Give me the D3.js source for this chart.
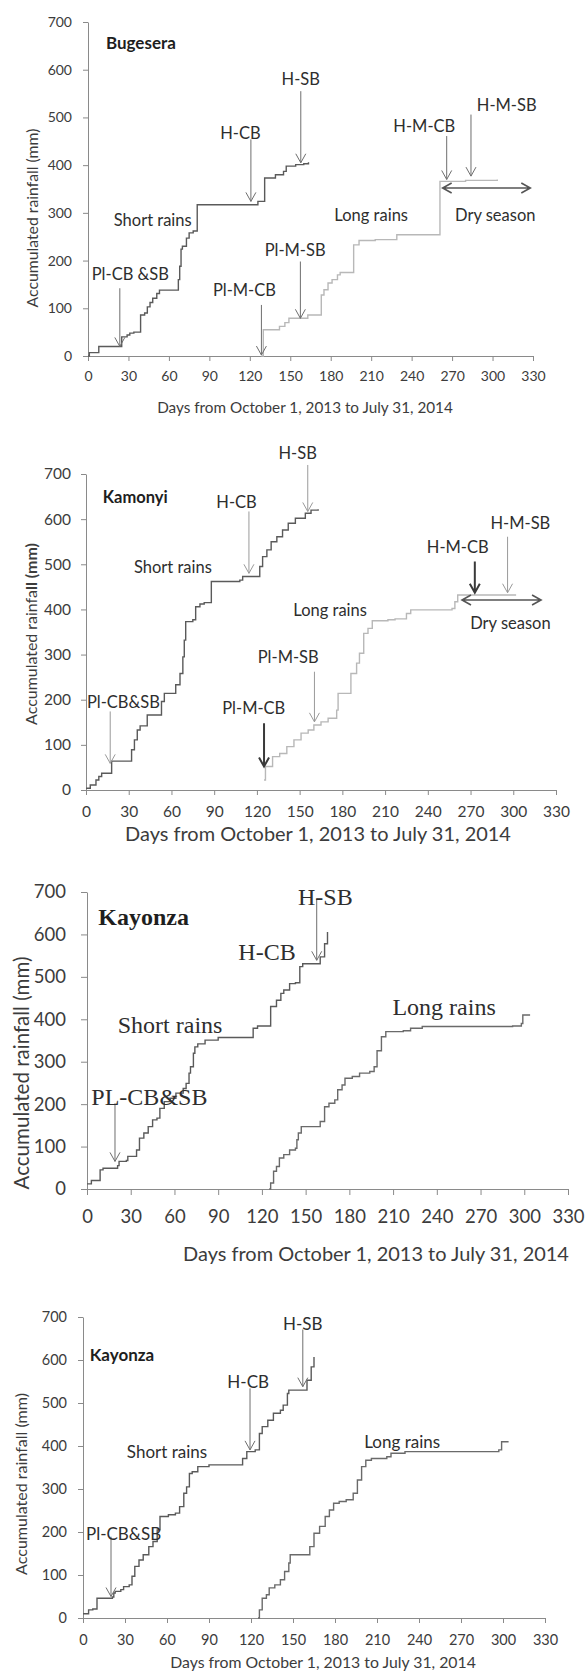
<!DOCTYPE html>
<html>
<head>
<meta charset="utf-8">
<script src="https://cdn.jsdelivr.net/npm/d3@7"></script>
<style>
  body { margin: 0; background: #fff; }
</style>
</head>
<body>
<div id="chart"></div>
<script>
// ticks + titles
const dayTicks = [0, 30, 60, 90, 120, 150, 180, 210, 240, 270, 300, 330];
const mmTicks = [0, 100, 200, 300, 400, 500, 600, 700];
const xTitle = 'Days from October 1, 2013 to July 31, 2014';
const yTitle = 'Accumulated rainfall (mm)';

// cumulative rainfall, [day, mm] (level starts on that day)
const bugeseraShort = [[0,0],[1,7],[8,20],[25,40],[29,44],[31,48],[34,50],[39,86],[42,90],[44,103],[46,112],[48,121],[51,131],[53,138],[67,160],[68,188],[69,224],[70,230],[73,247],[75,258],[78,262],[81,317],[126,324],[131,373],[139,380],[145,387],[147,398],[154,401],[160,403],[163.5,406]];
const bugeseraLong = [[128.5,0],[130,55],[142,62],[146,70],[149,79],[163,86],[173,128],[175,139],[178,153],[181,160],[185,170],[187,175],[197,233],[201,242],[213,244],[229,254],[261,366],[280,368],[303.5,370]];

const kamonyiShort = [[0,4],[3,11],[7,22],[9,30],[11,37],[18,64],[32,89],[34,111],[36,133],[38,142],[43,166],[53,196],[55,214],[63,233],[66,258],[68,295],[69,332],[70,373],[75,377],[77,406],[80,412],[83,415],[88,462],[108,465],[110,473],[122,495],[124,517],[127,532],[130,550],[134,561],[138,576],[142,591],[147,602],[154,613],[158,620],[163,622]];
const kamonyiLong = [[125,22],[126,52],[131,74],[136,81],[141,96],[146,111],[151,126],[156,133],[160,144],[165,151],[170,159],[176,177],[177,214],[186,258],[190,281],[192,303],[195,347],[198,358],[201,375],[212,377],[217,379],[225,391],[228,399],[257,402],[259,417],[261,432],[302,432]];

const kayonzaShort = [[0,12],[3,20],[9,45],[11,49],[21,55],[22,65],[27,67],[28,77],[34,92],[36,120],[39,132],[42,147],[45,163],[48,167],[50,190],[53,206],[57,214],[61,226],[66,237],[68,249],[70,273],[71,288],[73,320],[74,335],[76,342],[81,351],[90,357],[114,379],[117,384],[126,430],[130,445],[133,461],[135,469],[139,484],[143,486],[146,524],[148,531],[160,547],[163,578],[165,606]];
const kayonzaLong = [[125,0],[126,14],[128,42],[130,53],[132,73],[135,81],[139,92],[143,96],[144,116],[145,132],[147,147],[160,159],[163,194],[166,202],[170,210],[172,234],[175,245],[177,261],[182,265],[187,273],[194,277],[197,288],[199,326],[202,359],[205,371],[217,373],[222,379],[230,383],[292,384],[298,390],[299,410],[304,410]];

const kayonza2Short = [[0,10],[4,19],[7,21],[10,46],[21,49],[22,58],[23,62],[27,66],[29,73],[33,77],[35,97],[37,120],[40,135],[43,147],[47,166],[50,178],[53,205],[55,236],[61,240],[66,244],[69,259],[72,290],[74,305],[76,336],[78,340],[82,352],[90,356],[114,371],[117,387],[123,391],[126,429],[128,445],[132,460],[136,476],[141,483],[143,495],[146,522],[147,530],[160,553],[163,584],[165,607]];
const kayonza2Long = [[125,0],[126,19],[128,46],[131,54],[133,70],[137,77],[141,89],[144,108],[147,128],[148,147],[162,166],[165,197],[169,213],[173,236],[176,251],[179,267],[183,271],[188,275],[193,290],[196,321],[199,352],[202,367],[206,371],[217,375],[220,383],[230,387],[297,391],[299,410],[304,410]];

// annotations: [text, day, mm] ; arrows: [day, fromMm, toMm] ; dry: [fromDay, toDay, mm]
const bugeseraNotes = [['Pl-CB &SB',31.4,172],['Short rains',48,286],['H-CB',113,468],['H-SB',157.8,580],['Pl-M-CB',116,139],['Pl-M-SB',153.6,223],['Long rains',210,296],['H-M-CB',249.4,482],['H-M-SB',310.5,527],['Dry season',302,296]];
const bugeseraArrows = [[23.6,142,20],[120.8,454,324],[157.8,555,405],[128.6,107,2],[157.5,198,79],[266,461,370],[284,506,377]];
const bugeseraDry = [263, 328, 352];

const kamonyiNotes = [['H-SB',148.6,746],['H-CB',105.7,639],['Short rains',61,495],['Pl-CB&SB',26.3,196],['Pl-M-CB',117.8,181],['Pl-M-SB',142,295],['Long rains',171.4,399],['H-M-CB',261,539],['H-M-SB',305,591],['Dry season',298,369]];
const kamonyiArrows = [[155.7,720,617],[114.4,617,480],[17,174,59],[160.4,262,151],[296,561,437]];
const kamonyiBoldArrows = [[125,148,52],[273,506,437]];
const kamonyiDry = [264, 319.5, 421];

const kayonzaNotes = [['H-SB',163.5,688],['H-CB',123.5,559],['Short rains',57,386],['PL-CB&SB',42.8,218],['Long rains',245,430]];
const kayonzaArrows = [[157.6,684,539],[19.2,202,65]];

const kayonza2Notes = [['H-SB',157,686],['H-CB',118,549],['Short rains',60,387],['Pl-CB&SB',29,197],['Long rains',228,410]];
const kayonza2Arrows = [[157,671,538],[119.3,534,391],[20,189,50]];

const sans = "Lato, 'Open Sans', sans-serif";
const serif = "'Liberation Serif', 'DejaVu Serif', serif";

const panels = [
  { name: 'Bugesera', nameAt: [13.3, 657], short: bugeseraShort, long: bugeseraLong, longColor: '#b8b8b8',
    notes: bugeseraNotes, arrows: bugeseraArrows, bold: [], dry: bugeseraDry,
    x0: 88, x1: 533, yTop: 22, yBot: 356, tick: 5, xPad: 10, yPad: 11, tickFs: 14,
    noteFont: sans, noteFs: 16.5, nameFs: 17, xt: [305, 407, 296], yt: [31, 218, 179] },
  { name: 'Kamonyi', nameAt: [11.8, 650], short: kamonyiShort, long: kamonyiLong, longColor: '#b8b8b8',
    notes: kamonyiNotes, arrows: kamonyiArrows, bold: kamonyiBoldArrows, dry: kamonyiDry,
    x0: 86, x1: 556, yTop: 474, yBot: 790, tick: 5, xPad: 11, yPad: 10, tickFs: 15.5,
    noteFont: sans, noteFs: 16.5, nameFs: 16.5, xt: [318, 833, 386], yt: [30, 634, 182], boldTail: true },
  { name: 'Kayonza', nameAt: [7.7, 642], short: kayonzaShort, long: kayonzaLong, longColor: '#6a6a6a',
    notes: kayonzaNotes, arrows: kayonzaArrows, bold: [], dry: null,
    x0: 87, x1: 568, yTop: 892, yBot: 1189, tick: 6, xPad: 15, yPad: 15, tickFs: 18.5,
    noteFont: serif, noteFs: 24, nameFs: 24, xt: [376, 1253, 386], yt: [21, 1073, 233] },
  { name: 'Kayonza', nameAt: [4.8, 612], short: kayonza2Short, long: kayonza2Long, longColor: '#6a6a6a',
    notes: kayonza2Notes, arrows: kayonza2Arrows, bold: [], dry: null,
    x0: 83, x1: 545, yTop: 1317, yBot: 1618, tick: 5, xPad: 12, yPad: 11, tickFs: 14.5,
    noteFont: sans, noteFs: 17, nameFs: 17, xt: [323, 1661, 306], yt: [20, 1484, 182] }
];

const svg = d3.select('#chart').append('svg')
  .attr('width', 586)
  .attr('height', 1672)
  .style('background', '#fff');

function fitWidth(text, target) {
  const w = text.node().getComputedTextLength();
  const fs = parseFloat(text.attr('font-size'));
  text.attr('font-size', (fs * target) / w);
}

function arrowPath(x, y, a) {
  const x0 = x(a[0]), yFrom = y(a[1]), yTip = y(a[2]);
  return `M${x0},${yFrom}L${x0},${yTip}M${x0 - 5},${yTip - 9}L${x0},${yTip}L${x0 + 5},${yTip - 9}`;
}

function drawPanel(p) {
  const x = d3.scaleLinear().domain([0, 330]).range([p.x0, p.x1]);
  const y = d3.scaleLinear().domain([0, 700]).range([p.yBot, p.yTop]);
  const g = svg.append('g');

  function styleAxis(ax) {
    ax.selectAll('path, line').attr('stroke', '#8a8a8a');
    ax.selectAll('text').attr('fill', '#3c3c3c').attr('font-family', sans).attr('font-size', p.tickFs);
  }

  g.append('g')
    .attr('transform', `translate(0,${p.yBot})`)
    .call(d3.axisBottom(x).tickValues(dayTicks).tickSize(p.tick).tickSizeOuter(0).tickPadding(p.xPad))
    .call(styleAxis);
  g.append('g')
    .attr('transform', `translate(${p.x0},0)`)
    .call(d3.axisLeft(y).tickValues(mmTicks).tickSize(p.tick).tickSizeOuter(0).tickPadding(p.yPad))
    .call(styleAxis);

  const line = d3.line().x((d) => x(d[0])).y((d) => y(d[1])).curve(d3.curveStepAfter);
  g.append('path').datum(p.long).attr('d', line)
    .attr('fill', 'none').attr('stroke', p.longColor).attr('stroke-width', 1.4);
  g.append('path').datum(p.short).attr('d', line)
    .attr('fill', 'none').attr('stroke', '#5a5a5a').attr('stroke-width', 1.4);

  // callout arrows
  g.append('g').selectAll('path').data(p.arrows).join('path')
    .attr('d', (a) => arrowPath(x, y, a))
    .attr('fill', 'none').attr('stroke', p.bold.length ? '#9a9a9a' : '#6e6e6e').attr('stroke-width', 1);
  g.append('g').selectAll('path').data(p.bold).join('path')
    .attr('d', (a) => arrowPath(x, y, a))
    .attr('fill', 'none').attr('stroke', '#3a3a3a').attr('stroke-width', 2);

  if (p.dry) {
    const [a, b, m] = p.dry;
    const xa = x(a), xb = x(b), ym = y(m);
    g.append('path')
      .attr('d', `M${xa},${ym}L${xb},${ym}M${xa + 9},${ym - 5}L${xa},${ym}L${xa + 9},${ym + 5}M${xb - 9},${ym - 5}L${xb},${ym}L${xb - 9},${ym + 5}`)
      .attr('fill', 'none').attr('stroke', '#555').attr('stroke-width', 1.6);
  }

  g.append('g').selectAll('text').data(p.notes).join('text')
    .attr('x', (d) => x(d[1]))
    .attr('y', (d) => y(d[2]))
    .attr('text-anchor', 'middle')
    .attr('dominant-baseline', 'central')
    .attr('font-family', p.noteFont)
    .attr('font-size', p.noteFs)
    .attr('fill', '#2e2e2e')
    .text((d) => d[0]);

  g.append('text')
    .attr('x', x(p.nameAt[0]))
    .attr('y', y(p.nameAt[1]))
    .attr('dominant-baseline', 'central')
    .attr('font-family', p.noteFont)
    .attr('font-weight', 'bold')
    .attr('font-size', p.nameFs)
    .attr('fill', '#1e1e1e')
    .text(p.name);

  const xt = g.append('text')
    .attr('x', p.xt[0]).attr('y', p.xt[1])
    .attr('text-anchor', 'middle').attr('dominant-baseline', 'central')
    .attr('font-family', sans).attr('font-size', 16).attr('fill', '#3c3c3c')
    .text(xTitle);
  fitWidth(xt, p.xt[2]);

  const yt = g.append('text')
    .attr('transform', `translate(${p.yt[0]},${p.yt[1]}) rotate(-90)`)
    .attr('text-anchor', 'middle').attr('dominant-baseline', 'central')
    .attr('font-family', sans).attr('font-size', 16).attr('fill', '#3c3c3c');
  if (p.boldTail) {
    yt.append('tspan').text(yTitle.slice(0, 18));
    yt.append('tspan').attr('font-weight', 'bold').text(yTitle.slice(18));
  } else {
    yt.text(yTitle);
  }
  fitWidth(yt, p.yt[2]);
}

panels.forEach(drawPanel);
</script>
</body>
</html>
